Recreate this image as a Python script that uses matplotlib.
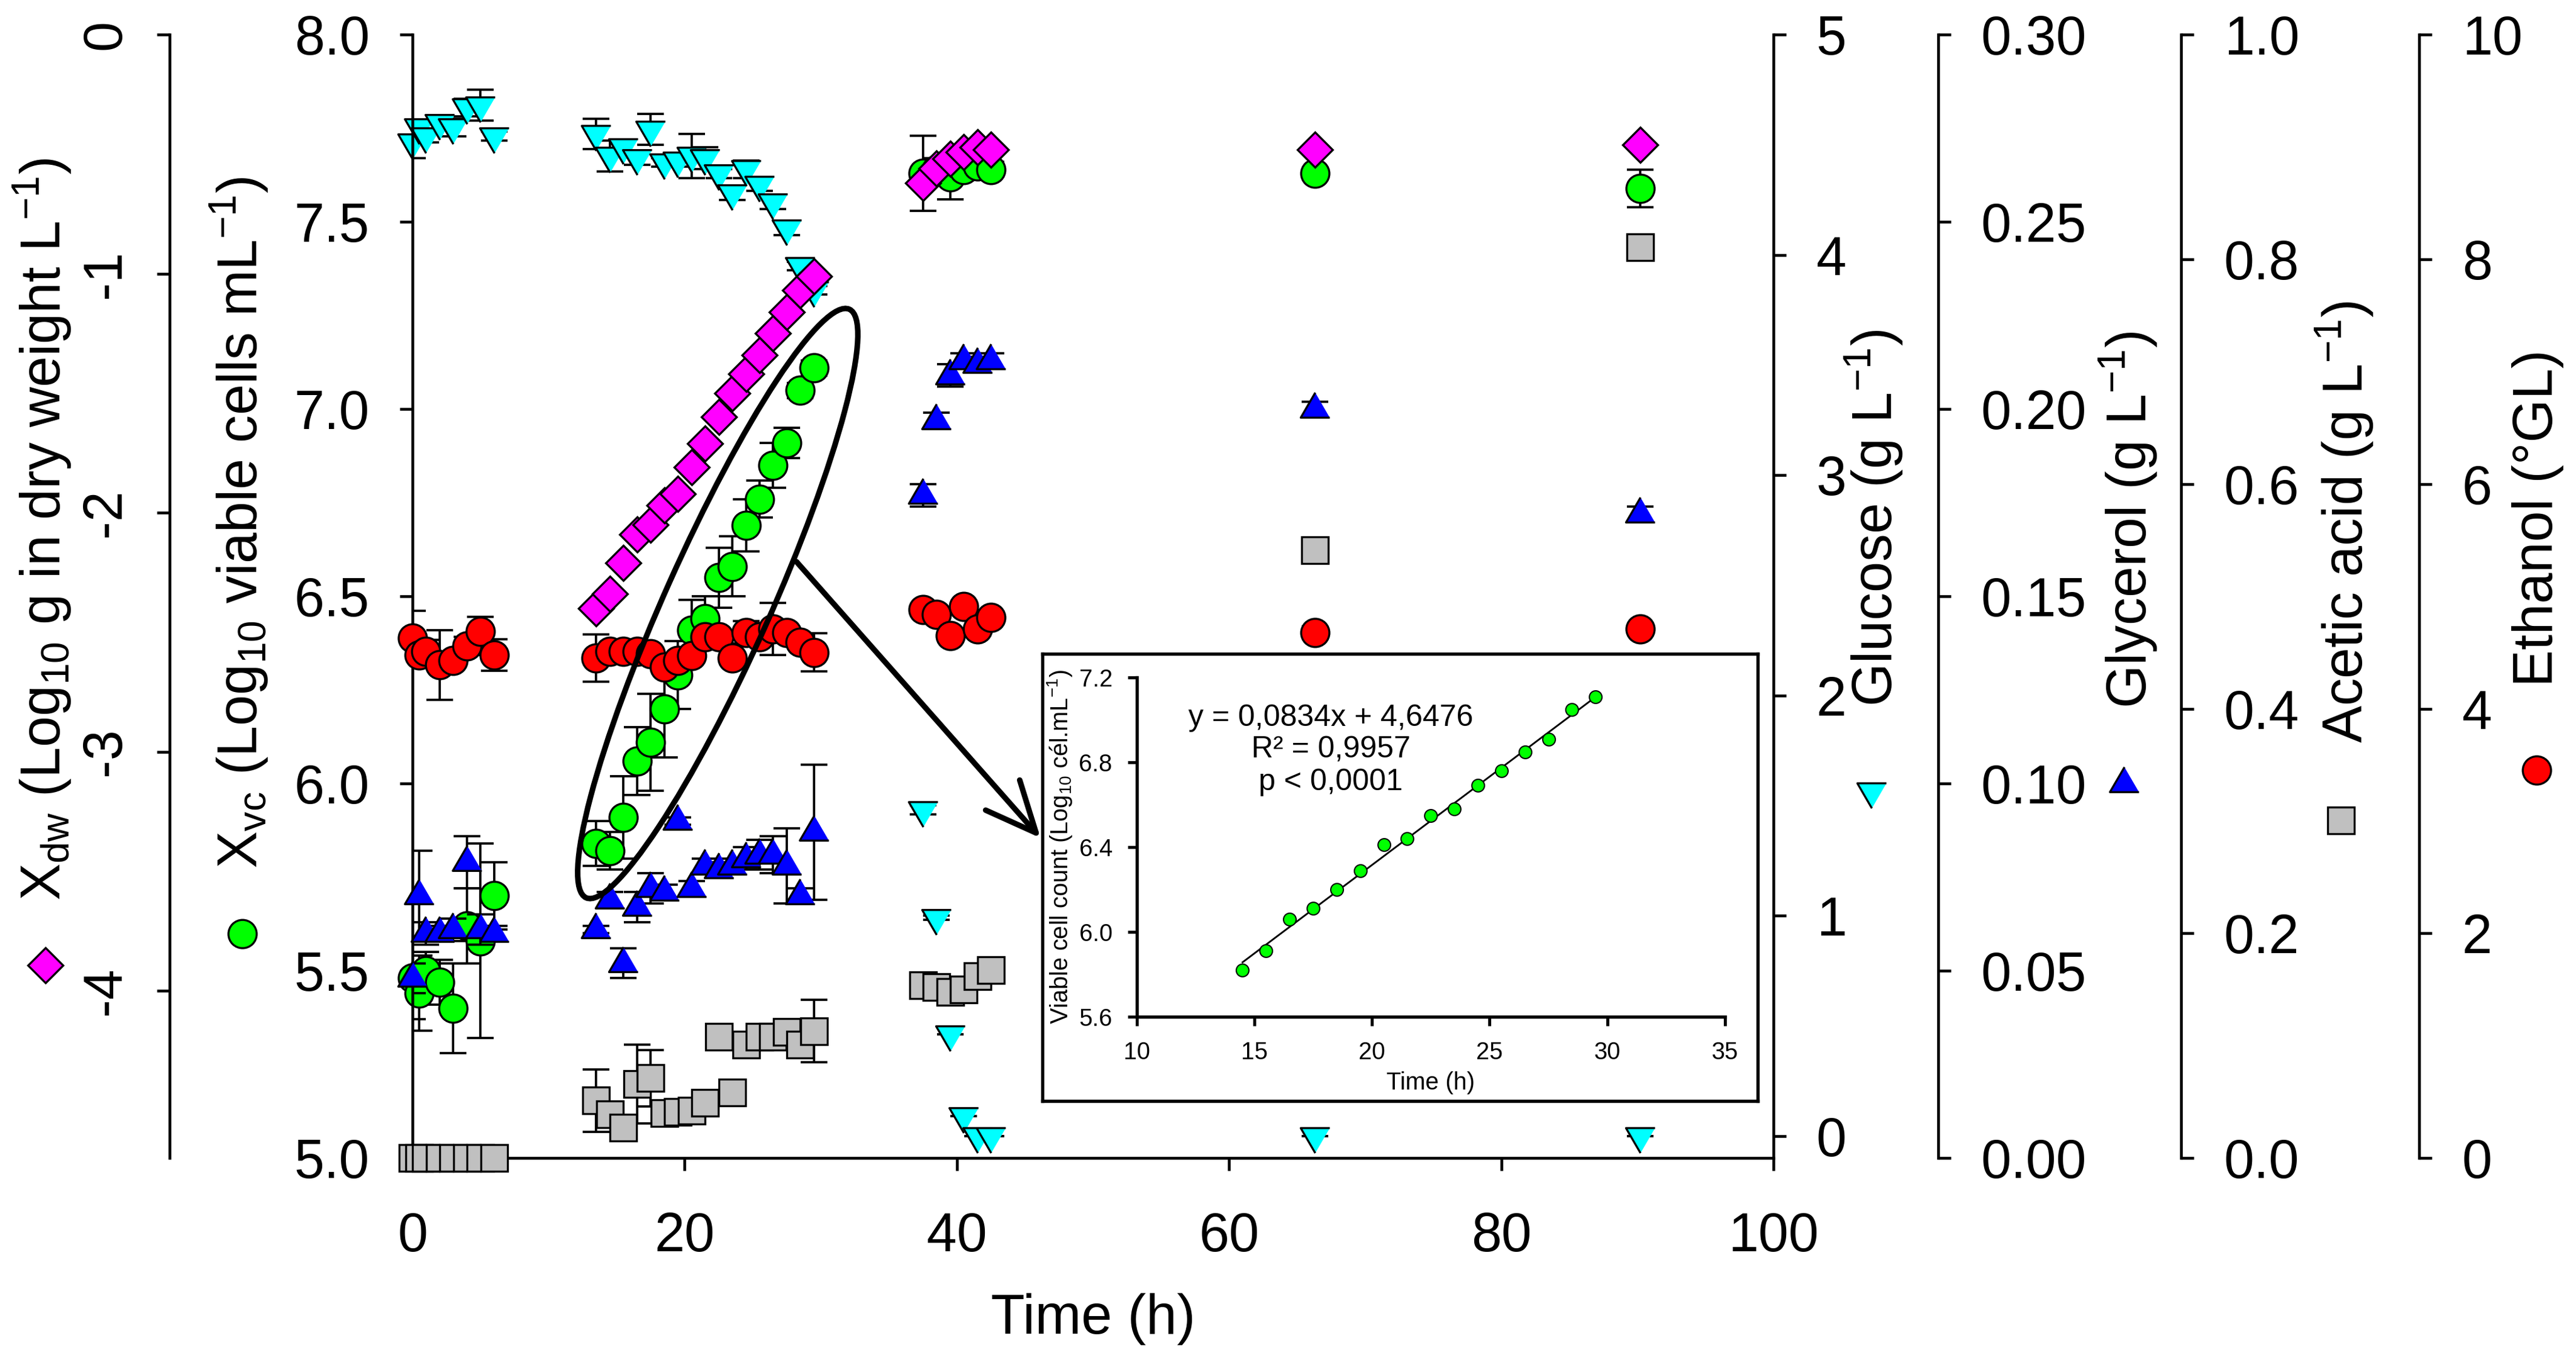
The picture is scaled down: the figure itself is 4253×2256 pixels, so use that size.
import numpy as np
import matplotlib
matplotlib.use('Agg')
import matplotlib.pyplot as plt
from matplotlib.patches import Ellipse, FancyArrowPatch
from matplotlib.lines import Line2D
from matplotlib.ticker import FormatStrFormatter

plt.rcParams['font.family'] = ['Liberation Sans', 'DejaVu Sans']
plt.rcParams['mathtext.fontset'] = 'custom'
plt.rcParams['mathtext.rm'] = 'Liberation Sans'
plt.rcParams['mathtext.it'] = 'Liberation Sans:italic'
plt.rcParams['mathtext.default'] = 'regular'
plt.rcParams['axes.unicode_minus'] = False

nan = np.nan

# ---- data ----
time_h = [0, 0.5, 1, 2, 3, 4, 5, 6,
          13.5, 14.5, 15.5, 16.5, 17.5, 18.5, 19.5, 20.5, 21.5, 22.5, 23.5,
          24.5, 25.5, 26.5, 27.5, 28.5, 29.5,
          37.5, 38.5, 39.5, 40.5, 41.5, 42.5,
          66.3, 90.2]

xdw = [nan, nan, nan, nan, nan, nan, nan, nan,
       -2.40, -2.34, -2.21, -2.09, -2.05, -1.97, -1.92, -1.81, -1.71, -1.60, -1.50,
       -1.42, -1.34, -1.25, -1.16, -1.07, -1.01,
       -0.62, -0.56, -0.52, -0.49, -0.47, -0.48,
       -0.48, -0.46]

xvc = [5.48, 5.44, 5.50, 5.47, 5.40, 5.62, 5.58, 5.70,
       5.84, 5.82, 5.91, 6.06, 6.11, 6.20, 6.29, 6.41, 6.44, 6.55, 6.58,
       6.69, 6.76, 6.85, 6.91, 7.05, 7.11,
       7.63, 7.64, 7.62, 7.64, 7.65, 7.64,
       7.63, 7.59]
xvc_err = [0.11, 0.10, 0.05, 0.06, 0.12, 0.10, 0.26, 0.09,
           0.06, 0.05, 0.11, 0.09, 0.13, 0.13, 0.09, 0.08, 0.06, 0.08, 0.08,
           0.07, 0.05, 0.06, 0.04, 0.02, 0.02,
           0.10, 0.03, 0.06, 0.02, 0.02, 0.02,
           0.01, 0.05]

glucose = [4.51, 4.58, 4.54, 4.60, 4.58, 4.67, 4.68, 4.54,
           4.55, 4.45, 4.49, 4.44, 4.57, 4.42, 4.43, 4.45, 4.44, 4.37, 4.28,
           4.39, 4.32, 4.24, 4.12, 3.95, 3.84,
           1.48, 0.99, 0.46, 0.09, 0.0, 0.0,
           0.0, 0.0]
glucose_err = [0.07, 0.03, 0.03, 0.03, 0.04, 0.04, 0.07, 0.02,
               0.07, 0.07, 0.03, 0.03, 0.07, 0.02, 0.03, 0.10, 0.05, 0.02, 0.03,
               0.04, 0.03, 0.03, 0.03, 0.02, 0.02,
               0.02, 0.01, 0.0, 0.0, 0.0, 0.0,
               0.0, 0.0]

glycerol = [0.048, 0.070, 0.060, 0.060, 0.061, 0.079, 0.061, 0.060,
            0.061, 0.069, 0.052, 0.067, 0.072, 0.071, 0.090, 0.072, 0.078, 0.077, 0.078,
            0.080, 0.081, 0.081, 0.078, 0.070, 0.087,
            0.177, 0.197, 0.209, 0.213, 0.212, 0.213,
            0.200, 0.172]
glycerol_err = [0.004, 0.012, 0.003, 0.002, 0.003, 0.007, 0.004, 0.002,
                0.001, 0.002, 0.004, 0.004, 0.004, 0.002, 0.001, 0.002, 0.002, 0.002, 0.002,
                0.003, 0.004, 0.005, 0.010, 0.002, 0.018,
                0.003, 0.002, 0.003, 0.002, 0.002, 0.002,
                0.002, 0.002]

acetic = [0, 0, 0, 0, 0, 0, 0, 0,
          0.051, 0.039, 0.027, 0.066, 0.071, 0.040, 0.041, 0.042, 0.049, 0.108, 0.058,
          0.101, 0.108, 0.108, 0.112, 0.101, 0.113,
          0.154, 0.152, 0.148, 0.150, 0.162, 0.167,
          0.541, 0.811]
acetic_err = [0, 0, 0, 0, 0, 0, 0, 0,
              0.028, 0.010, 0.005, 0.035, 0.025, 0.005, 0.005, 0.005, 0.005, 0.005, 0.005,
              0.005, 0.005, 0.005, 0.006, 0.005, 0.028,
              0.005, 0.005, 0.005, 0.005, 0.005, 0.005,
              0.005, 0.005]

ethanol = [4.63, 4.48, 4.51, 4.39, 4.43, 4.56, 4.69, 4.48,
           4.45, 4.51, 4.51, 4.51, 4.49, 4.37, 4.43, 4.47, 4.64, 4.64, 4.45,
           4.68, 4.64, 4.71, 4.68, 4.59, 4.50,
           4.88, 4.84, 4.65, 4.91, 4.71, 4.81,
           4.68, 4.71]
ethanol_err = [0.24, 0.08, 0.10, 0.31, 0.05, 0.08, 0.13, 0.14,
               0.21, 0.05, 0.05, 0.05, 0.05, 0.05, 0.05, 0.05, 0.05, 0.05, 0.05,
               0.10, 0.05, 0.23, 0.05, 0.05, 0.17,
               0.03, 0.03, 0.03, 0.03, 0.03, 0.03,
               0.05, 0.02]

# inset: exponential phase regression
inset_time = [14.5, 15.5, 16.5, 17.5, 18.5, 19.5, 20.5, 21.5,
              22.5, 23.5, 24.5, 25.5, 26.5, 27.5, 28.5, 29.5]
inset_xvc = [5.82, 5.91, 6.06, 6.11, 6.20, 6.29, 6.41, 6.44,
             6.55, 6.58, 6.69, 6.76, 6.85, 6.91, 7.05, 7.11]
fit_slope = 0.0834
fit_intercept = 4.6476
fit_range = [14.5, 29.5]

time_ticks = [0, 20, 40, 60, 80, 100]
xvc_ticks = [5.0, 5.5, 6.0, 6.5, 7.0, 7.5, 8.0]
xdw_ticks = [0, -1, -2, -3, -4]
glucose_ticks = [0, 1, 2, 3, 4, 5]
glycerol_ticks = [0.00, 0.05, 0.10, 0.15, 0.20, 0.25, 0.30]
acetic_ticks = [0.0, 0.2, 0.4, 0.6, 0.8, 1.0]
ethanol_ticks = [0, 2, 4, 6, 8, 10]
inset_xticks = [10, 15, 20, 25, 30, 35]
inset_yticks = [5.6, 6.0, 6.4, 6.8, 7.2]

# ---- styles ----
# triangles centred on their centroid, a little wider than tall
tri_up = [(0, 0.573), (-0.5, -0.287), (0.5, -0.287)]
tri_down = [(0, -0.573), (-0.5, 0.287), (0.5, 0.287)]
st_xdw = dict(marker='D', ms=10, mfc='#FF00FF')
st_xvc = dict(marker='o', ms=11.2, mfc='#00FF00')
st_glu = dict(marker=tri_down, ms=13.2, mfc='#00FFFF')
st_gly = dict(marker=tri_up, ms=13.2, mfc='#0000FF')
st_ace = dict(marker='s', ms=10.4, mfc='#C0C0C0')
st_eth = dict(marker='o', ms=11.2, mfc='#FF0000')
MEW = 0.8

SPINE_W = 1.1
TICK_SIZE = 21.5
LABEL_SIZE = 22

W, H, DPI = 4253, 2256, 300


def rect(x0, y0, x1, y1):
    return [x0 / W, 1 - y1 / H, (x1 - x0) / W, (y1 - y0) / H]


def fpos(x, y):
    return (x / W, 1 - y / H)


fig = plt.figure(figsize=(W / DPI, H / DPI), dpi=DPI, facecolor='white')
ax = fig.add_axes(rect(681, 57.4, 2928, 1911))
ax.patch.set_visible(False)


def side_axis(offset, side):
    a = ax.twinx()
    for s in ['top', 'bottom', 'left', 'right']:
        a.spines[s].set_visible(False)
    a.spines[side].set_visible(True)
    a.spines[side].set_position(('axes', offset))
    a.spines[side].set_linewidth(SPINE_W)
    if side == 'left':
        a.yaxis.tick_left()
    else:
        a.yaxis.tick_right()
    a.tick_params(axis='y', direction='out', length=5, width=SPINE_W,
                  labelsize=TICK_SIZE, pad=12)
    a.patch.set_visible(False)
    return a


def draw(a, y, err, st, z):
    if err is not None:
        a.errorbar(time_h, y, yerr=err, fmt='none', ecolor='k', elinewidth=0.9,
                   capsize=5.2, capthick=0.9)
    a.plot(time_h, y, ls='none', mec='k', mew=MEW, clip_on=False, **st)
    a.set_zorder(z)


# host axis: X_vc
for s in ['top', 'right']:
    ax.spines[s].set_visible(False)
for s in ['left', 'bottom']:
    ax.spines[s].set_linewidth(SPINE_W)
ax.set_xlim(0, 100)
ax.set_ylim(5.0, 8.0)
ax.set_xticks(time_ticks)
ax.set_yticks(xvc_ticks)
ax.yaxis.set_major_formatter(FormatStrFormatter('%.1f'))
ax.tick_params(axis='y', direction='out', length=5, width=SPINE_W,
               labelsize=TICK_SIZE, pad=12)
ax.tick_params(axis='x', direction='out', length=5, width=SPINE_W,
               labelsize=TICK_SIZE, pad=16)
ax.set_xlabel('Time (h)', fontsize=LABEL_SIZE, labelpad=12)

ax_dw = side_axis(-0.1785, 'left')
ax_dw.set_ylim(-4.7, 0)
ax_dw.set_yticks(xdw_ticks)
ax_dw.yaxis.set_major_formatter(FormatStrFormatter('%d'))
ax_dw.tick_params(axis='y', labelrotation=90, pad=10)
for lab in ax_dw.get_yticklabels():
    lab.set_va('center')

ax_glu = side_axis(1.0, 'right')
ax_glu.set_ylim(-0.1, 5.0)
ax_glu.set_yticks(glucose_ticks)

ax_gly = side_axis(1.1210, 'right')
ax_gly.set_ylim(0, 0.30)
ax_gly.set_yticks(glycerol_ticks)
ax_gly.yaxis.set_major_formatter(FormatStrFormatter('%.2f'))

ax_ace = side_axis(1.2995, 'right')
ax_ace.set_ylim(0, 1.0)
ax_ace.set_yticks(acetic_ticks)
ax_ace.yaxis.set_major_formatter(FormatStrFormatter('%.1f'))

ax_eth = side_axis(1.4744, 'right')
ax_eth.set_ylim(0, 10)
ax_eth.set_yticks(ethanol_ticks)

ax.set_zorder(2)
draw(ax_glu, glucose, glucose_err, st_glu, 1)
draw(ax, xvc, xvc_err, st_xvc, 2)
draw(ax_dw, xdw, None, st_xdw, 3)
draw(ax_gly, glycerol, glycerol_err, st_gly, 4)
draw(ax_ace, acetic, acetic_err, st_ace, 5)
draw(ax_eth, ethanol, ethanol_err, st_eth, 6)

# axis titles with their symbol keys
labels = [
    ((70, 873), 'X$_{dw}$ (Log$_{10}$ g in dry weight L$^{-1}$)', (75, 1593), st_xdw),
    ((395, 862), 'X$_{vc}$ (Log$_{10}$ viable cells mL$^{-1}$)', (400, 1541), st_xvc),
    ((3094, 855), 'Glucose (g L$^{-1}$)', (3090, 1306), st_glu),
    ((3514, 858), 'Glycerol (g L$^{-1}$)', (3507, 1293), st_gly),
    ((3871, 861), 'Acetic acid (g L$^{-1}$)', (3865, 1354), st_ace),
    ((4190, 855), 'Ethanol (°GL)', (4188, 1271), st_eth),
]
for tpos, txt, mpos, st in labels:
    fig.text(*fpos(*tpos), txt, rotation=90, ha='center', va='center',
             fontsize=LABEL_SIZE)
    mx, my = fpos(*mpos)
    fig.add_artist(Line2D([mx], [my], transform=fig.transFigure, ls='none',
                          mec='k', mew=MEW, **st))

# ellipse around the exponential phase and arrow to the inset
ell = Ellipse(xy=(1185 / DPI, (H - 996) / DPI), width=1064 / DPI, height=174 / DPI,
              angle=65.9, transform=fig.dpi_scale_trans, fill=False, lw=2.2,
              ec='k', zorder=15)
fig.add_artist(ell)
arr = FancyArrowPatch(posA=fpos(1315, 927), posB=fpos(1718, 1383),
                      arrowstyle='->,head_length=1.0,head_width=0.45',
                      mutation_scale=20, lw=2.2, color='k',
                      transform=fig.transFigure, shrinkA=0, shrinkB=0, zorder=15)
fig.add_artist(arr)

# inset
box = fig.add_axes(rect(1721, 1079, 2902, 1817))
box.set_xticks([])
box.set_yticks([])
box.set_facecolor('white')
for s in box.spines.values():
    s.set_linewidth(1.3)
box.set_zorder(10)

ax_in = fig.add_axes(rect(1876.6, 1118, 2848, 1678))
ax_in.set_zorder(11)
ax_in.patch.set_visible(False)
for s in ['top', 'right']:
    ax_in.spines[s].set_visible(False)
for s in ['left', 'bottom']:
    ax_in.spines[s].set_linewidth(1.3)
ax_in.set_xlim(10, 35)
ax_in.set_ylim(5.6, 7.2)
ax_in.set_xticks(inset_xticks)
ax_in.set_yticks(inset_yticks)
ax_in.yaxis.set_major_formatter(FormatStrFormatter('%.1f'))
ax_in.tick_params(direction='out', length=3.6, width=1.2, labelsize=9.5, pad=6)
fit_y = [fit_slope * x + fit_intercept for x in fit_range]
ax_in.plot(fit_range, fit_y, color='k', lw=0.7)
ax_in.plot(inset_time, inset_xvc, ls='none', marker='o', ms=5, mfc='#00FF00',
           mec='k', mew=0.5, clip_on=False)
ax_in.set_xlabel('Time (h)', fontsize=9.5, labelpad=3)
ax_in.set_ylabel('Viable cell count (Log$_{10}$ cél.mL$^{-1}$)', fontsize=9.5,
                 labelpad=2)
ax_in.text(0.33, 0.786, 'y = 0,0834x + 4,6476\nR² = 0,9957\np < 0,0001',
           transform=ax_in.transAxes, ha='center', va='center', fontsize=12,
           linespacing=1.2, multialignment='center')

fig.savefig('out.png', dpi=DPI, facecolor='white')
